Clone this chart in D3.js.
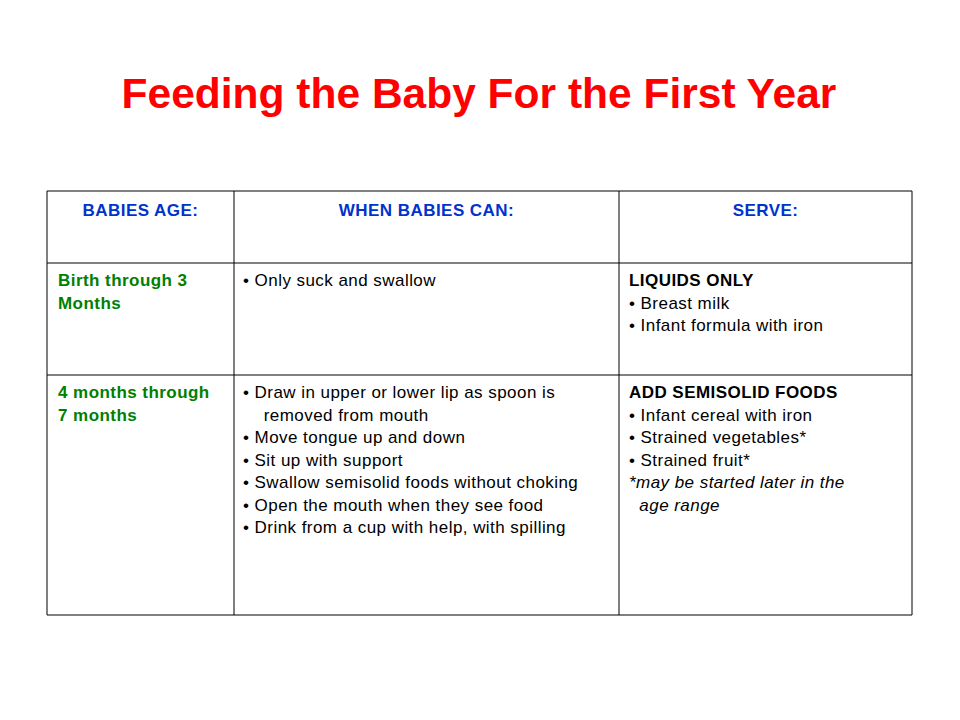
<!DOCTYPE html>
<html><head><meta charset="utf-8">
<script src="https://cdn.jsdelivr.net/npm/d3@7"></script>
<style>body{margin:0;background:#fff}</style></head>
<body><svg id="c" width="960" height="720"></svg>
<script>
const title = "Feeding the Baby For the First Year";
const headers = ["BABIES AGE:", "WHEN BABIES CAN:", "SERVE:"];
const ages = [["Birth through 3", "Months"], ["4 months through", "7 months"]];
const abilities = [
  ["• Only suck and swallow"],
  ["• Draw in upper or lower lip as spoon is", "    removed from mouth", "• Move tongue up and down", "• Sit up with support",
   "• Swallow semisolid foods without choking", "• Open the mouth when they see food", "• Drink from a cup with help, with spilling"]
];
const serveHead = ["LIQUIDS ONLY", "ADD SEMISOLID FOODS"];
const serveItems = [
  ["• Breast milk", "• Infant formula with iron"],
  ["• Infant cereal with iron", "• Strained vegetables*", "• Strained fruit*"]
];
const serveNotes = [[], ["*may be started later in the", "  age range"]];

const svg = d3.select("#c");
const font = "Liberation Sans, Arial, sans-serif";
const fs = 17;
const ls = "0.45px";
svg.append("text").attr("x", 479).attr("y", 108).attr("text-anchor", "middle")
  .attr("font-family", font).attr("font-weight", "bold").attr("font-size", 42.5).attr("fill", "#ff0000").text(title);

const colX = [47, 234, 619, 912];
const rowY = [191, 263, 375, 615];
const g = svg.append("g");
colX.forEach(x => g.append("line").attr("x1", x).attr("x2", x).attr("y1", rowY[0]).attr("y2", rowY[3]).attr("stroke", "#000"));
rowY.forEach(y => g.append("line").attr("x1", colX[0]).attr("x2", colX[3]).attr("y1", y).attr("y2", y).attr("stroke", "#000"));

headers.forEach((h, i) => g.append("text").attr("x", (colX[i] + colX[i + 1]) / 2).attr("y", 216)
  .attr("text-anchor", "middle").attr("font-family", font).attr("font-weight", "bold").attr("font-size", fs)
  .attr("letter-spacing", ls).attr("fill", "#0033cc").text(h));

const lh = 22.5;
function lines(x, y0, arr, opts) {
  arr.forEach((t, j) => {
    const tx = g.append("text").attr("x", x).attr("y", y0 + j * lh).attr("font-family", font).attr("font-size", fs)
      .attr("letter-spacing", ls)
      .attr("fill", opts.fill || "#000").style("white-space", "pre").text(t);
    if (opts.bold) tx.attr("font-weight", "bold");
    if (opts.italic) tx.attr("font-style", "italic");
  });
}
for (let r = 0; r < 2; r++) {
  const y0 = rowY[r + 1] + 23;
  lines(58, y0, ages[r], {bold: true, fill: "#008000"});
  lines(243, y0, abilities[r], {});
  lines(629, y0, [serveHead[r]], {bold: true});
  lines(629, y0 + lh, serveItems[r], {});
  lines(629, y0 + lh * (1 + serveItems[r].length), serveNotes[r], {italic: true});
}
</script></body></html>
